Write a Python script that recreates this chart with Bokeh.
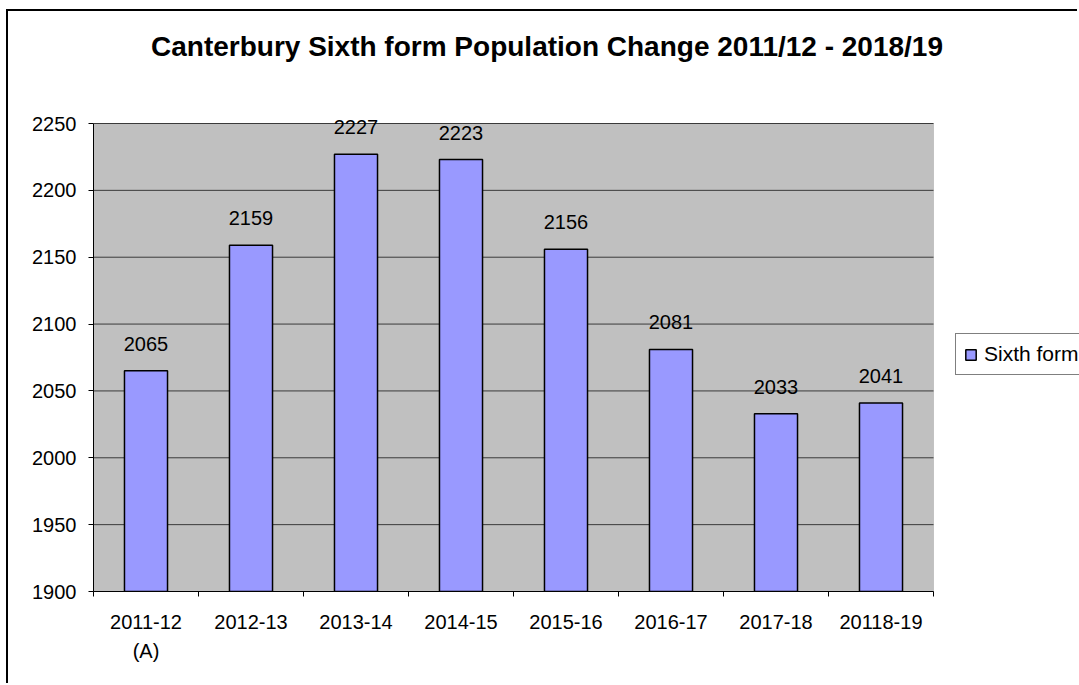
from bokeh.plotting import figure
from bokeh.models import (ColumnDataSource, Range1d, FixedTicker, LabelSet, Label,
                          Legend, LegendItem, BoxAnnotation)
from bokeh.core.properties import value
from bokeh.embed import file_html
from bokeh.resources import INLINE

categories = ["2011-12\n(A)", "2012-13", "2013-14", "2014-15",
              "2015-16", "2016-17", "2017-18", "20118-19"]
values = [2065, 2159, 2227, 2223, 2156, 2081, 2033, 2041]
y_ticks = [1900, 1950, 2000, 2050, 2100, 2150, 2200, 2250]
title_text = "Canterbury Sixth form Population Change 2011/12 - 2018/19"
series_name = "Sixth form"

FONT = "Liberation Sans"
n = len(categories)
y0, y1 = y_ticks[0], y_ticks[-1]

# layout (pixels)
W, H = 1071, 674
LEFT, BOTTOM = 85, 94
PLOT_W, PLOT_H = 840, 468
px_x = PLOT_W / n
px_y = PLOT_H / (y1 - y0)
x_max = (W - LEFT) / px_x
y_max = y0 + (H - BOTTOM) / px_y

x_centers = [i + 0.5 for i in range(n)]
x_bounds = list(range(n + 1))

src = ColumnDataSource(dict(x=x_centers, top=values,
                            label=[str(v) for v in values]))

p = figure(width=W, height=H, output_backend="svg", toolbar_location=None,
           x_range=Range1d(0, x_max), y_range=Range1d(y0, y_max),
           min_border_left=LEFT, min_border_right=0, min_border_top=0,
           min_border_bottom=BOTTOM)
p.styles = {"margin-left": "6px", "margin-top": "9px",
            "border-left": "2px solid black", "border-top": "2px solid black"}
p.background_fill_color = "white"
p.border_fill_color = "white"
p.outline_line_color = None
p.xgrid.visible = False
p.ygrid.visible = False

# plot area
p.add_layout(BoxAnnotation(left=0, right=n, bottom=y0, top=y1,
                           fill_color="#C0C0C0", fill_alpha=1,
                           line_color="#808080", line_width=1, level="underlay"))
# gridlines
p.segment(x0=[0] * len(y_ticks), x1=[n] * len(y_ticks), y0=y_ticks, y1=y_ticks,
          line_color="#3a3a3a", line_width=1)

r = p.vbar(x="x", top="top", bottom=y0, width=0.41, source=src,
           fill_color="#9999FF", line_color="black", line_width=1.5)

# axes
p.yaxis.ticker = FixedTicker(ticks=y_ticks)
p.yaxis.bounds = (y0, y1)
p.yaxis.axis_line_color = "black"
p.yaxis.major_tick_out = 5
p.yaxis.major_tick_in = 0
p.yaxis.major_tick_line_color = "black"
p.yaxis.minor_tick_line_color = None
p.yaxis.major_label_standoff = 12
p.yaxis.major_label_text_font = FONT
p.yaxis.major_label_text_font_size = "20px"
p.yaxis.major_label_text_color = "black"

p.xaxis.ticker = FixedTicker(ticks=x_centers, minor_ticks=x_bounds)
p.xaxis.bounds = (0, n)
p.xaxis.major_label_overrides = {x: c for x, c in zip(x_centers, categories)}
p.xaxis.axis_line_color = "black"
p.xaxis.major_tick_line_color = None
p.xaxis.major_tick_out = 5
p.xaxis.major_tick_in = 0
p.xaxis.minor_tick_line_color = "black"
p.xaxis.minor_tick_out = 5
p.xaxis.minor_tick_in = 0
p.xaxis.major_label_standoff = 14
p.xaxis.major_label_text_font = FONT
p.xaxis.major_label_text_font_size = "20px"
p.xaxis.major_label_text_color = "black"
p.xaxis.major_label_text_line_height = 1.35

labels = LabelSet(x="x", y="top", text="label", source=src, text_align="center",
                  text_baseline="middle", y_offset=27, text_font=value(FONT),
                  text_font_size=value("20px"), text_color="black")
p.add_layout(labels)

title = Label(x=453.5, y=545, x_units="screen", y_units="screen", text=title_text,
              text_align="center", text_baseline="middle", text_font=FONT,
              text_font_size="28px", text_font_style="bold", text_color="black")
p.add_layout(title)

legend = Legend(items=[LegendItem(label=series_name, renderers=[r])],
                location=(862, 216), orientation="vertical",
                border_line_color="black", border_line_width=1,
                background_fill_color="white", background_fill_alpha=1,
                label_text_font=FONT, label_text_font_size="21px",
                label_text_color="black", glyph_width=13, glyph_height=13,
                label_height=20, label_standoff=7, padding=8, spacing=0,
                margin=0)
p.add_layout(legend, "center")

open("out.html", "w").write(file_html(p, INLINE))
